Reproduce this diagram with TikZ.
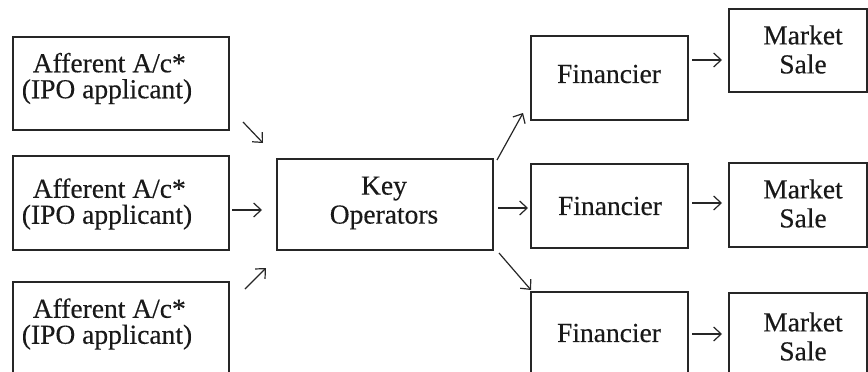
\documentclass[tikz,border=0pt]{standalone}
\usepackage{fontspec}
\setmainfont{Liberation Serif}
\newfontfamily\diafont{Liberation Serif}[FakeBold=0.35]
\usetikzlibrary{arrows.meta}
\tikzset{
  boxnode/.style={draw=black!85, line width=1.2pt, rectangle, inner sep=0pt},
  txt/.style={align=center, inner sep=0pt, font=\diafont\fontsize{27.5}{26}\selectfont, text=black!90},
  txtm/.style={align=center, inner sep=0pt, font=\diafont\fontsize{27.5}{29}\selectfont, text=black!90},
  arr/.style={line width=1.2pt, draw=black!85, -{Straight Barb[length=7.5pt,width=14pt,line width=1.2pt]}}
}
\begin{document}
\begin{tikzpicture}[x=1pt,y=-1pt]
\useasboundingbox (0,0) rectangle (868,372);
% boxes
\node[boxnode, minimum width=216pt, minimum height=93pt] (a1) at (121,83.5) {};
\node[boxnode, minimum width=216pt, minimum height=94pt] (a2) at (121,203) {};
\node[boxnode, minimum width=216pt, minimum height=130pt] (a3) at (121,347) {};
\node[boxnode, minimum width=216pt, minimum height=91pt] (k) at (385,204.5) {};
\node[boxnode, minimum width=157pt, minimum height=84pt] (f1) at (609.5,78) {};
\node[boxnode, minimum width=157pt, minimum height=84pt] (f2) at (609.5,206) {};
\node[boxnode, minimum width=157pt, minimum height=130pt] (f3) at (609.5,357) {};
\node[boxnode, minimum width=138pt, minimum height=83pt] (m1) at (798,50.5) {};
\node[boxnode, minimum width=138pt, minimum height=84pt] (m2) at (798,205) {};
\node[boxnode, minimum width=138pt, minimum height=130pt] (m3) at (798,358) {};
% texts
\node[txt] (ta1) at (107,78.5) {\,Afferent A/c*\\(IPO applicant)};
\node[txt] (ta2) at (107,204) {\,Afferent A/c*\\(IPO applicant)};
\node[txt] (ta3) at (107,324) {\,Afferent A/c*\\(IPO applicant)};
\node[txtm] (tk) at (384,203) {Key\\Operators};
\node[txtm] (tf1) at (609,74) {Financier};
\node[txtm] (tf2) at (610,206) {Financier};
\node[txtm] (tf3) at (609,333) {Financier};
\node[txtm] (tm1) at (803,49.5) {Market\\Sale};
\node[txtm] (tm2) at (803,203.5) {Market\\Sale};
\node[txtm] (tm3) at (803,336.5) {Market\\Sale};
% arrow end points
\coordinate (p1s) at (243,122); \coordinate (p1e) at (263,143);
\coordinate (p2s) at (232,210); \coordinate (p2e) at (262,210);
\coordinate (p3s) at (245,289); \coordinate (p3e) at (266,268);
\coordinate (q1s) at (497,160); \coordinate (q1e) at (523,113);
\coordinate (q2s) at (498,208); \coordinate (q2e) at (528,208);
\coordinate (q3s) at (499,253); \coordinate (q3e) at (531,290);
\coordinate (r1s) at (692,60); \coordinate (r1e) at (722,60);
\coordinate (r2s) at (692,203); \coordinate (r2e) at (722,203);
\coordinate (r3s) at (692,334); \coordinate (r3e) at (722,334);
\draw[arr] (p1s) -- (p1e);
\draw[arr] (p2s) -- (p2e);
\draw[arr] (p3s) -- (p3e);
\draw[arr] (q1s) -- (q1e);
\draw[arr] (q2s) -- (q2e);
\draw[arr] (q3s) -- (q3e);
\draw[arr] (r1s) -- (r1e);
\draw[arr] (r2s) -- (r2e);
\draw[arr] (r3s) -- (r3e);
\end{tikzpicture}
\end{document}
